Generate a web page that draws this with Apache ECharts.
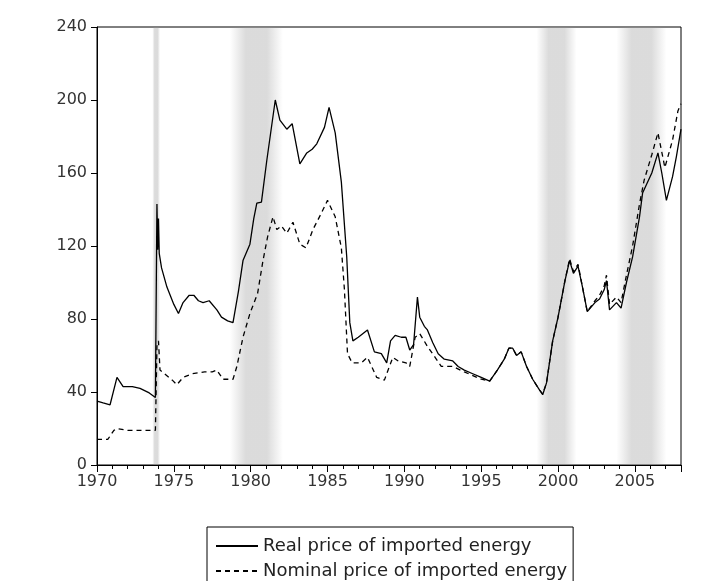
<!DOCTYPE html>
<html>
<head>
<meta charset="utf-8">
<script src="https://cdn.jsdelivr.net/npm/echarts@6/dist/echarts.min.js"></script>
<style>
  html, body { margin: 0; padding: 0; background: #fff; }
  #chart { width: 726px; height: 581px; }
</style>
</head>
<body>
<div id="chart"></div>
<script>
// real price of imported energy (decimal year, index)
var realYears = [1970.0, 1970.4, 1970.85, 1971.3, 1971.7, 1972.3, 1972.8, 1973.4, 1973.8, 1973.9, 1973.95, 1974.0, 1974.05,
  1974.2, 1974.55, 1975.0, 1975.3, 1975.6, 1976.0, 1976.3, 1976.6, 1976.9, 1977.3, 1977.8, 1978.1, 1978.5, 1978.85,
  1979.2, 1979.5, 1979.95, 1980.2, 1980.4, 1980.7, 1981.05, 1981.6, 1981.9, 1982.35, 1982.7, 1983.2, 1983.65, 1984.0,
  1984.3, 1984.8, 1985.1, 1985.5, 1985.9, 1986.25, 1986.45, 1986.65, 1987.0, 1987.6, 1988.05, 1988.5, 1988.85, 1989.1,
  1989.4, 1989.8, 1990.1, 1990.35, 1990.6, 1990.85, 1991.0, 1991.3, 1991.5, 1991.85, 1992.2, 1992.6, 1993.15, 1993.5,
  1993.9, 1994.45, 1995.0, 1995.55, 1996.05, 1996.5, 1996.8, 1997.05, 1997.3, 1997.6, 1997.95, 1998.35, 1998.8, 1999.0,
  1999.25, 1999.65, 2000.0, 2000.45, 2000.75, 2001.0, 2001.3, 2001.6, 2001.9, 2002.4, 2002.7, 2003.0, 2003.15, 2003.35,
  2003.8, 2004.1, 2004.45, 2004.85, 2005.3, 2005.5, 2006.1, 2006.5, 2006.75, 2007.05, 2007.45, 2007.7, 2008.0];
var realValues = [35, 34, 33, 48, 43, 43, 42, 39.5, 37, 143, 118, 135, 116,
  108, 97.5, 88, 83, 89, 93, 93, 90, 89, 90, 85, 81, 79, 78,
  95, 112, 121, 135, 143.5, 144, 167, 200, 189, 184, 187, 165, 171, 173,
  176, 185, 196, 182, 155, 114, 78, 68, 70, 74, 62, 61, 56, 68,
  71, 70, 70, 63, 66, 92, 81, 76, 74, 67, 61, 58, 57, 54,
  52, 50, 48, 46, 52, 58, 64, 64, 60, 62, 54, 47, 41, 38.5,
  45, 68, 81, 101, 112, 105, 109, 97, 84, 89, 91, 96, 101, 85,
  89, 86, 100, 114, 136, 149, 160, 171, 160, 145, 158, 169, 184];

// nominal price of imported energy
var nominalYears = [1970.0, 1970.7, 1971.1, 1971.3, 1972.0, 1973.0, 1973.8, 1973.9, 1974.0, 1974.1, 1974.4, 1974.9,
  1975.2, 1975.6, 1976.2, 1977.0, 1977.5, 1977.8, 1978.2, 1978.85, 1979.1, 1979.5, 1979.95, 1980.45, 1980.8, 1981.1,
  1981.45, 1981.7, 1982.0, 1982.35, 1982.75, 1983.2, 1983.6, 1984.05, 1984.6, 1985.0, 1985.5, 1985.9, 1986.1, 1986.3,
  1986.6, 1987.2, 1987.6, 1988.2, 1988.7, 1989.25, 1989.6, 1990.1, 1990.35, 1990.7, 1991.0, 1991.5, 1992.0, 1992.4,
  1993.15, 1993.9, 1995.0, 1995.55, 1996.05, 1996.5, 1996.8, 1997.05, 1997.3, 1997.6, 1997.95, 1998.35, 1998.8, 1999.0,
  1999.25, 1999.65, 2000.0, 2000.45, 2000.75, 2001.0, 2001.3, 2001.6, 2001.9, 2002.4, 2002.7, 2003.0, 2003.15, 2003.35,
  2003.8, 2004.1, 2004.45, 2004.85, 2005.3, 2005.6, 2006.1, 2006.5, 2006.95, 2007.45, 2007.8, 2008.0];
var nominalValues = [14, 14, 19, 20, 19, 19, 19, 65, 68, 52, 50, 46.5,
  44, 48, 50, 51, 51, 52, 47, 47, 54, 70, 83, 94, 112, 125,
  136, 129, 131, 127, 133, 121, 119, 129, 138, 145, 136, 119, 96, 61,
  56, 56, 59, 48, 46.5, 59, 57, 56, 54, 70, 72, 65, 59, 54,
  54, 51, 47, 46, 52, 58, 64, 64, 60, 62, 54, 47, 41, 39,
  45, 68, 81, 101, 113, 106, 110, 97, 84, 90, 93, 98, 104, 88,
  92, 89, 104, 120, 143, 156, 170, 182, 163, 178, 194, 198];

// shaded periods
var bandStarts = [1973.6, 1978.65, 1998.6, 2003.8];
var bandEnds = [1974.1, 1982.1, 2001.2, 2007.05];

var yTicks = [0, 40, 80, 120, 160, 200, 240];

function pairs(xs, ys) {
  return xs.map(function (x, i) { return [x, ys[i]]; });
}

var bandFill = new echarts.graphic.LinearGradient(0, 0, 1, 0, [
  { offset: 0, color: 'rgba(150,150,150,0)' },
  { offset: 0.3, color: 'rgba(150,150,150,0.34)' },
  { offset: 0.7, color: 'rgba(150,150,150,0.34)' },
  { offset: 1, color: 'rgba(150,150,150,0)' }
]);

var chart = echarts.init(document.getElementById('chart'), null, { renderer: 'canvas' });

var option = {
  backgroundColor: '#fff',
  animation: false,
  textStyle: { fontFamily: 'DejaVu Sans', color: '#000' },
  grid: {
    left: 97, top: 27, right: 45, bottom: 116,
    show: true, borderColor: '#000', borderWidth: 1, backgroundColor: 'transparent'
  },
  xAxis: {
    type: 'value',
    min: 1970, max: 2008, interval: 5,
    axisLine: { show: true, lineStyle: { color: '#000', width: 1 } },
    axisTick: { show: true, length: 7, lineStyle: { color: '#000' } },
    minorTick: { show: true, splitNumber: 5, length: 4, lineStyle: { color: '#000' } },
    splitLine: { show: false },
    axisLabel: {
      color: '#333', fontSize: 16, margin: 9, showMaxLabel: false,
      formatter: function (v) { return String(v); }
    }
  },
  yAxis: {
    type: 'value',
    min: yTicks[0], max: yTicks[yTicks.length - 1], interval: 40,
    axisLine: { show: true, lineStyle: { color: '#000', width: 1 } },
    axisTick: { show: true, length: 6, lineStyle: { color: '#000' } },
    splitLine: { show: false },
    axisLabel: { color: '#333', fontSize: 16, margin: 10 }
  },
  legend: {
    orient: 'vertical',
    left: 207, top: 527, height: 90,
    padding: [10, 6, 8, 8],
    itemGap: 7,
    itemWidth: 42, itemHeight: 14,
    borderColor: '#000', borderWidth: 1, borderRadius: 0,
    itemStyle: { opacity: 0 },
    textStyle: { fontSize: 18, color: '#222', fontFamily: 'DejaVu Sans' },
    data: ['Real price of imported energy', 'Nominal price of imported energy']
  },
  series: [
    {
      name: 'Real price of imported energy',
      type: 'line',
      symbol: 'none',
      data: pairs(realYears, realValues),
      lineStyle: { color: '#000', width: 1.3, type: 'solid' },
      itemStyle: { color: '#000' },
      z: 3,
      markArea: {
        silent: true,
        itemStyle: { color: bandFill },
        data: bandStarts.map(function (s, i) {
          return [{ xAxis: s }, { xAxis: bandEnds[i] }];
        })
      }
    },
    {
      name: 'Nominal price of imported energy',
      type: 'line',
      symbol: 'none',
      data: pairs(nominalYears, nominalValues),
      lineStyle: { color: '#000', width: 1.3, type: [5, 4] },
      itemStyle: { color: '#000' },
      z: 2
    }
  ]
};

chart.setOption(option);
</script>
</body>
</html>
